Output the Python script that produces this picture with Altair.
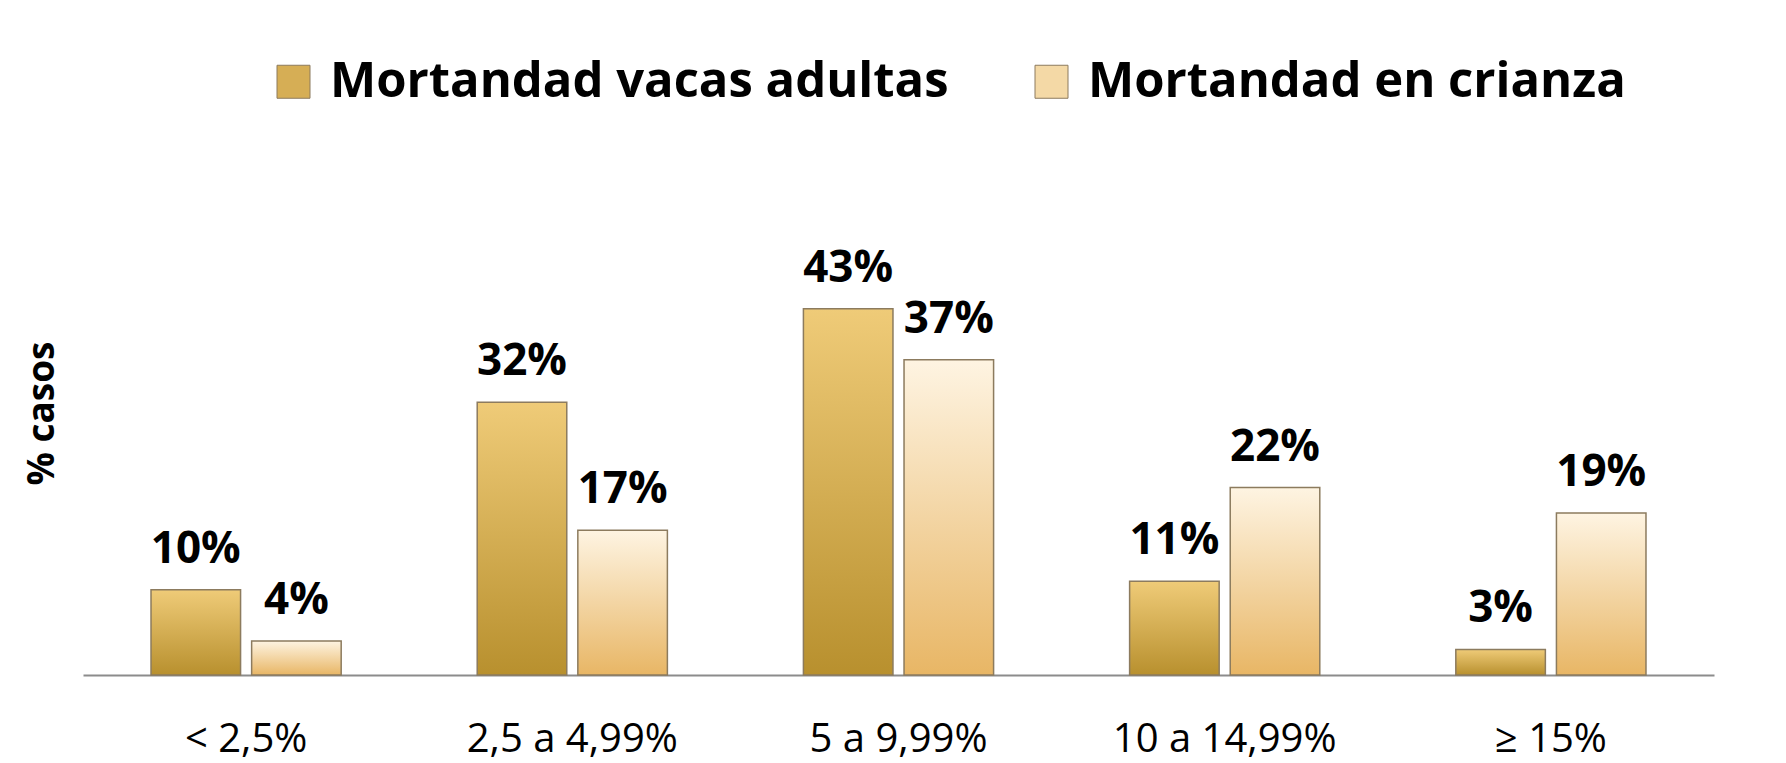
import altair as alt
import pandas as pd

categories = ["< 2,5%", "2,5 a 4,99%", "5 a 9,99%", "10 a 14,99%", "≥ 15%"]
series = ["Mortandad vacas adultas", "Mortandad en crianza"]
adultas = [10, 32, 43, 11, 3]
crianza = [4, 17, 37, 22, 19]

rows = []
for c, a, b in zip(categories, adultas, crianza):
    rows.append({"cat": c, "serie": series[0], "value": a})
    rows.append({"cat": c, "serie": series[1], "value": b})
df = pd.DataFrame(rows)

FONT = "Open Sans"

x_enc = alt.X("cat:N", sort=categories,
              scale=alt.Scale(paddingInner=0.417, paddingOuter=0.2085),
              axis=alt.Axis(title=None, labelAngle=0, ticks=False,
                            domainColor="#8c8c8c", domainWidth=2,
                            labelFont=FONT, labelFontSize=40, labelColor="#000000",
                            labelPadding=44, labelLimit=400, grid=False))
xo_enc = alt.XOffset("serie:N", sort=series,
                     scale=alt.Scale(domain=series, paddingInner=0.11, paddingOuter=0))
y_enc = alt.Y("value:Q", scale=alt.Scale(domain=[0, 50], nice=False),
              axis=alt.Axis(title="% casos", labels=False, ticks=False, domain=False,
                            grid=False, titleFont=FONT, titleFontSize=37,
                            titleFontWeight="bold", titleColor="#000000",
                            titleAngle=270, titleX=-41, titleY=164,
                            titleAlign="center", titleBaseline="middle"))

base = alt.Chart(df)

grad1 = alt.Gradient(gradient="linear", x1=0, x2=0, y1=0, y2=1,
                     stops=[alt.GradientStop(color="#EFCB78", offset=0),
                            alt.GradientStop(color="#B8902E", offset=1)])
grad2 = alt.Gradient(gradient="linear", x1=0, x2=0, y1=0, y2=1,
                     stops=[alt.GradientStop(color="#FEF4E2", offset=0),
                            alt.GradientStop(color="#E8B665", offset=1)])

bars1 = base.transform_filter(alt.datum.serie == series[0]).mark_bar(
    fill=grad1, stroke="#8C7B5E", strokeWidth=1.5
).encode(x=x_enc, xOffset=xo_enc, y=y_enc)

bars2 = base.transform_filter(alt.datum.serie == series[1]).mark_bar(
    fill=grad2, stroke="#8C7B5E", strokeWidth=1.5
).encode(x=x_enc, xOffset=xo_enc, y=y_enc)

legend_layer = base.mark_square(opacity=0).encode(
    x=x_enc, xOffset=xo_enc, y=y_enc,
    color=alt.Color("serie:N", sort=series,
                    scale=alt.Scale(domain=series, range=["#D6AE55", "#F4D9A6"]),
                    legend=alt.Legend(title=None, orient="none", legendX=186, legendY=-192,
                                      direction="horizontal", symbolType="square",
                                      symbolSize=1089, symbolOpacity=1,
                                      symbolStrokeColor="#8C7B5E", symbolStrokeWidth=1,
                                      labelFont=FONT, labelFontSize=49,
                                      labelFontWeight="bold", labelColor="#000000",
                                      labelOffset=12, columnPadding=78, labelLimit=1000))
)

labels = base.transform_calculate(
    label="format(datum.value, 'd') + '%'"
).mark_text(font=FONT, fontSize=44, fontWeight="bold", color="#000000",
            baseline="alphabetic", dy=-27).encode(
    x=x_enc, xOffset=xo_enc, y=y_enc, text="label:N")

chart = alt.layer(bars1, bars2, legend_layer, labels).properties(
    width=1631, height=426,
    autosize=alt.AutoSizeParams(type="none"),
    padding={"left": 75, "top": 241, "right": 64, "bottom": 88},
    background="white",
).configure_view(stroke=None)

chart.save("out.html", embed_options={"renderer": "svg", "actions": False})
